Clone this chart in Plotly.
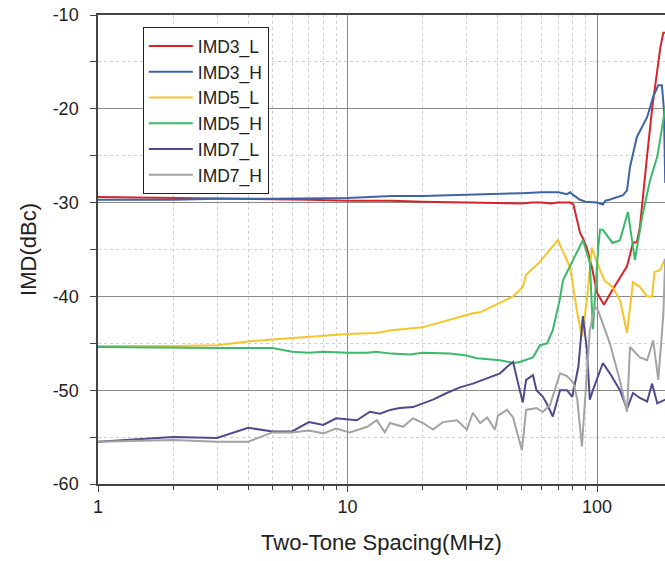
import plotly.graph_objects as go
import math

# ---- data ----
imd3_l_x = [1, 2, 3, 5, 7, 10, 15, 20, 25, 30, 35, 40, 45, 50, 55, 60, 65, 70, 78, 80.4, 85.5, 87.8, 91, 95.4, 100, 105.6, 106.6, 115.4, 131.9, 139.4, 144.5, 148.6, 152.8, 158.8, 166.3, 179.3, 184.4, 188]
imd3_l_y = [-29.4, -29.5, -29.6, -29.6, -29.7, -29.8, -29.8, -29.9, -29.95, -30.0, -30.05, -30.1, -30.15, -30.1, -30.0, -30.0, -30.1, -30.0, -30.0, -30.2, -33.2, -33.8, -34.8, -36.9, -39.6, -40.7, -40.9, -39.3, -36.8, -34.3, -34.2, -32.6, -29.7, -25.0, -20.0, -13.5, -11.9, -11.9]

imd3_h_x = [1, 2, 3, 5, 10, 15, 20, 30, 40, 50, 60, 70, 75.8, 78, 80.4, 85.5, 90, 100, 105.6, 108, 112, 120, 127.1, 131.9, 135.6, 144.5, 158.8, 168, 176, 182, 185.5, 187.7]
imd3_h_y = [-29.7, -29.7, -29.6, -29.6, -29.5, -29.3, -29.3, -29.2, -29.1, -29.0, -28.9, -28.9, -29.1, -28.9, -29.2, -29.7, -29.9, -30.0, -30.2, -29.8, -29.7, -29.4, -29.2, -28.7, -26.2, -23.0, -20.9, -18.7, -17.5, -17.5, -20.1, -27.9]

imd5_l_x = [1, 2, 3, 4, 5, 7, 10, 13, 15, 20, 25.7, 31.8, 34, 40.9, 46.1, 50.4, 52, 59.1, 69.7, 78, 83.4, 87, 91.1, 95.4, 100, 107, 115.4, 124, 131.9, 139.4, 148.6, 158.8, 166.3, 170, 179.3, 184.4, 187.7]
imd5_l_y = [-45.3, -45.3, -45.2, -44.8, -44.6, -44.3, -44.0, -43.9, -43.6, -43.3, -42.5, -41.8, -41.7, -40.7, -40.0, -39.0, -37.7, -36.3, -34.0, -36.9, -41.8, -44.3, -40.4, -34.8, -36.4, -38.3, -39.0, -40.5, -43.9, -38.5, -39.0, -40.0, -40.0, -37.4, -37.2, -36.4, -36.0]

imd5_h_x = [1, 2, 3, 4, 5, 6, 7, 8, 10, 12, 13, 15, 17.8, 20, 25.7, 30, 33, 40.9, 46.1, 49, 55.4, 59.1, 63.1, 66.5, 71.1, 73, 80.4, 87.8, 93.6, 96.3, 101, 102.8, 105.6, 115.4, 123.6, 133, 141.9, 152.8, 163.3, 174.4, 184.4, 187.7]
imd5_h_y = [-45.4, -45.5, -45.5, -45.5, -45.5, -45.9, -46.0, -45.9, -46.0, -46.0, -45.9, -46.1, -46.2, -46.0, -46.1, -46.3, -46.6, -46.8, -47.1, -47.0, -46.5, -45.2, -45.0, -43.6, -40.2, -38.3, -36.1, -34.0, -36.4, -43.5, -35.0, -32.9, -32.9, -34.3, -34.0, -31.0, -36.1, -31.1, -27.6, -25.1, -21.2, -19.8]

imd7_l_x = [1, 2, 3, 4, 5, 6, 7, 8, 9, 10.9, 12.3, 13.5, 14.8, 16.2, 18.3, 20.1, 22, 25, 28.2, 31.8, 36.3, 40.9, 43.6, 46.1, 48.3, 50.4, 52, 55.4, 57.2, 60.7, 63.1, 66.5, 71.1, 75.8, 79.6, 84.2, 87.8, 91.1, 93.6, 96.3, 105.6, 112.6, 123.6, 131.9, 139.4, 148, 158.8, 166.3, 174.4, 187.7]
imd7_l_y = [-55.5, -55.0, -55.1, -54.0, -54.4, -54.4, -53.4, -53.7, -53.0, -53.2, -52.3, -52.5, -52.1, -51.9, -51.8, -51.4, -51.0, -50.3, -49.7, -49.3, -48.7, -48.2, -47.5, -47.0, -49.3, -51.3, -48.9, -48.4, -50.0, -50.7, -51.5, -52.8, -50.0, -50.0, -50.7, -47.5, -42.1, -45.7, -51.0, -50.0, -47.1, -48.2, -50.0, -52.0, -50.3, -50.8, -51.2, -49.3, -51.4, -51.0]

imd7_h_x = [1, 2, 3, 4, 5, 6, 7, 8, 9, 10.2, 12, 13.1, 14.1, 14.8, 16.7, 18.3, 20.1, 22, 24.1, 27.5, 30.1, 31.8, 34, 36.3, 39, 40.1, 43.6, 46.1, 50, 52, 57.2, 60.7, 64.8, 71.1, 75.8, 80.4, 83.4, 87, 93.6, 98.1, 101, 112.6, 123.6, 131.9, 135.6, 148.6, 158.8, 168, 176, 184.4, 187.7]
imd7_h_y = [-55.5, -55.3, -55.5, -55.5, -54.5, -54.5, -54.3, -54.6, -54.1, -54.5, -53.9, -53.2, -54.5, -53.5, -53.9, -53.0, -53.5, -54.2, -53.4, -53.2, -54.2, -52.4, -53.5, -52.9, -54.2, -52.7, -52.1, -52.9, -56.4, -52.1, -51.9, -52.3, -51.6, -48.2, -48.5, -49.2, -51.0, -56.0, -43.6, -41.1, -41.5, -45.0, -49.0, -52.3, -45.4, -46.5, -46.8, -44.7, -48.9, -42.0, -36.0]

series_names = ["IMD3_L", "IMD3_H", "IMD5_L", "IMD5_H", "IMD7_L", "IMD7_H"]
series_colors = ["#d7232b", "#3f64a3", "#f6c52a", "#3cb96b", "#4f4a8e", "#a3a3a3"]
series_x = [imd3_l_x, imd3_h_x, imd5_l_x, imd5_h_x, imd7_l_x, imd7_h_x]
series_y = [imd3_l_y, imd3_h_y, imd5_l_y, imd5_h_y, imd7_l_y, imd7_h_y]

y_ticks = [-10, -20, -30, -40, -50, -60]
y_tick_labels = ["-10", "-20", "-30", "-40", "-50", "-60"]
x_ticks = [1, 10, 100]
x_tick_labels = ["1", "10", "100"]

fig = go.Figure()
for name, color, xs, ys in zip(series_names, series_colors, series_x, series_y):
    fig.add_trace(go.Scatter(x=xs, y=ys, mode="lines", name=name,
                             line=dict(color=color, width=2)))

font_family = "Liberation Sans, Arial, sans-serif"
fig.update_layout(
    width=665, height=561,
    margin=dict(l=98, r=0, t=15, b=77),
    paper_bgcolor="white", plot_bgcolor="white",
    font=dict(family=font_family, color="#222222"),
    showlegend=True,
    legend=dict(x=0.079, y=0.974, xanchor="left", yanchor="top",
                bgcolor="white", bordercolor="#222222", borderwidth=1,
                itemwidth=44,
                font=dict(size=17.5, color="#222222"), tracegroupgap=0),
    xaxis=dict(
        type="log", range=[0, math.log10(187.3)],
        tickvals=x_ticks, ticktext=x_tick_labels,
        ticks="outside", ticklen=6, tickcolor="#444444",
        tickfont=dict(size=18),
        showline=True, linecolor="#444444", linewidth=1.5, mirror=True,
        showgrid=True, gridcolor="#8a8a8a", gridwidth=1,
        minor=dict(tickvals=[2, 3, 4, 5, 6, 7, 8, 9, 20, 30, 40, 50, 60, 70, 80, 90, 200],
                   ticks="outside", ticklen=4, tickcolor="#444444",
                   showgrid=True, gridcolor="#cfcfcf", griddash="dot", gridwidth=1),
        title=dict(text="Two-Tone Spacing(MHz)", font=dict(size=22), standoff=18),
        zeroline=False, automargin=False,
    ),
    yaxis=dict(
        range=[-60, -10], tickvals=y_ticks, ticktext=y_tick_labels,
        ticks="outside", ticklen=6, tickcolor="#444444",
        tickfont=dict(size=18), ticklabelstandoff=8, ticklabeloverflow="allow",
        showline=True, linecolor="#444444", linewidth=1.5, mirror=False,
        showgrid=True, gridcolor="#8a8a8a", gridwidth=1,
        minor=dict(dtick=5, ticks="outside", ticklen=6, tickcolor="#444444",
                   showgrid=True, gridcolor="#cfcfcf", griddash="dot", gridwidth=1),
        title=dict(text="IMD(dBc)", font=dict(size=22), standoff=10),
        zeroline=False, automargin=False,
    ),
)

# remove the default page margin so the 665x561 figure fills the window exactly
fig.write_html("out.html",
               config={"displayModeBar": False},
               post_script="document.body.style.margin='0';document.body.style.overflow='hidden';")
